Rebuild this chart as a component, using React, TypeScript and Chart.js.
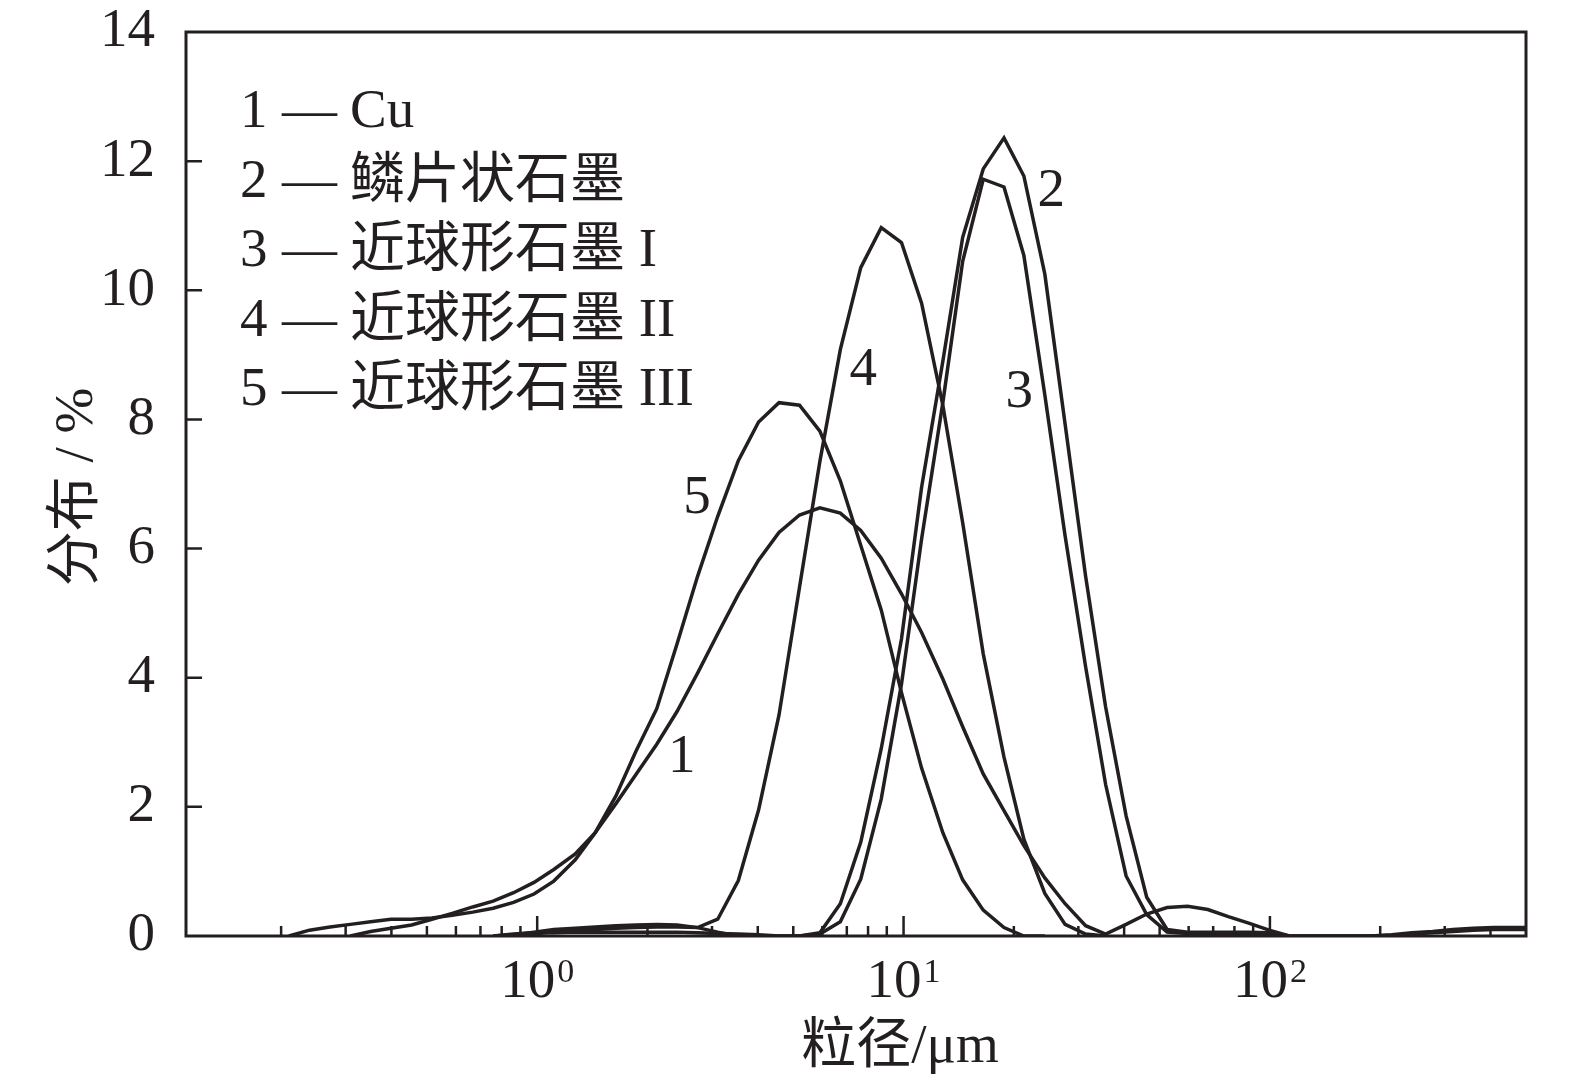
import { useEffect, useRef } from 'react';
import { Chart, registerables } from 'chart.js';
import type { Plugin } from 'chart.js';

Chart.register(...registerables);

// particle size bins (µm)
const sizes = [
    0.185, 0.210, 0.239, 0.272, 0.309, 0.351, 0.399, 0.454, 0.516, 0.586,
    0.667, 0.758, 0.862, 0.980, 1.11, 1.27, 1.44, 1.64, 1.86, 2.12,
    2.41, 2.74, 3.11, 3.54, 4.02, 4.57, 5.20, 5.91, 6.72, 7.64,
    8.69, 9.87, 11.2, 12.8, 14.5, 16.5, 18.8, 21.3, 24.3, 27.6,
    31.4, 35.6, 40.5, 46.1, 52.4, 59.6, 67.7, 77.0, 87.5, 99.5,
    113, 129, 146, 166, 189, 215, 244, 278, 316, 359,
    408, 465, 528,
];

// distribution (%) per sample, null = not measured
const cu = [
    null, null, null, null, 0, 0.07, 0.12, 0.17, 0.26, 0.35,
    0.45, 0.54, 0.67, 0.83, 1.03, 1.27, 1.60, 2.05, 2.50, 2.97,
    3.48, 4.07, 4.68, 5.29, 5.82, 6.25, 6.52, 6.63, 6.55, 6.28,
    5.85, 5.30, 4.70, 3.98, 3.24, 2.51, 1.94, 1.40, 0.90, 0.50,
    0.16, 0.03, 0.18, 0.34, 0.44, 0.46, 0.41, 0.30, 0.20, 0.09,
    0, null, null, null, null, null, null, null, null, null,
    null, null, null,
];
const flake = [
    null, null, null, null, null, null, null, null, null, null,
    null, 0, 0.02, 0.06, 0.10, 0.12, 0.14, 0.16, 0.17, 0.18,
    0.17, 0.13, 0.06, 0, 0, 0, 0, 0.05, 0.50, 1.45,
    2.90, 4.60, 6.95, 8.90, 10.82, 11.88, 12.36, 11.77, 10.25, 7.93,
    5.57, 3.55, 1.86, 0.60, 0.10, 0.06, 0.06, 0.06, 0.06, 0.05,
    0, 0, 0, 0, 0, 0.02, 0.05, 0.07, 0.10, 0.12,
    0.13, 0.13, 0.13,
];
const sphere1 = [
    null, null, null, null, null, null, null, null, null, null,
    null, 0, 0.03, 0.05, 0.05, 0.06, 0.06, 0.06, 0.06, 0.06,
    0.06, 0.05, 0.04, 0.03, 0.02, 0, 0, 0.03, 0.22, 0.88,
    2.12, 3.90, 6.15, 8.26, 10.45, 11.72, 11.60, 10.54, 8.38, 6.20,
    4.17, 2.35, 0.93, 0.33, 0.06, 0.04, 0.04, 0.04, 0.04, 0.03,
    0, 0, 0, 0, 0, 0.01, 0.03, 0.05, 0.07, 0.09,
    0.10, 0.10, 0.10,
];
const sphere2 = [
    null, null, null, null, null, null, null, null, null, null,
    null, null, 0, 0.03, 0.07, 0.09, 0.10, 0.12, 0.13, 0.14,
    0.14, 0.13, 0.26, 0.86, 1.95, 3.42, 5.40, 7.35, 9.08, 10.35,
    10.97, 10.74, 9.80, 8.22, 6.40, 4.37, 2.77, 1.50, 0.66, 0.18,
    0.03, 0, null, null, null, null, null, null, null, null,
    null, null, null, null, null, null, null, null, null, null,
    null, null, null,
];
const sphere3 = [
    null, 0, 0.09, 0.14, 0.18, 0.22, 0.26, 0.26, 0.28, 0.32,
    0.37, 0.43, 0.52, 0.65, 0.85, 1.18, 1.60, 2.17, 2.86, 3.52,
    4.53, 5.57, 6.50, 7.36, 7.96, 8.26, 8.22, 7.82, 7.05, 6.05,
    5.05, 3.77, 2.60, 1.60, 0.87, 0.40, 0.13, 0, 0, null,
    null, null, null, null, null, null, null, null, null, null,
    null, null, null, null, null, null, null, null, null, null,
    null, null, null,
];

const seriesNames = ['Cu', '鳞片状石墨', '近球形石墨 I', '近球形石墨 II', '近球形石墨 III'];
const series = [cu, flake, sphere1, sphere2, sphere3];

const xTicks = [
    0.2, 0.3, 0.4, 0.5, 0.6, 0.7, 0.8, 0.9,
    1, 2, 3, 4, 5, 6, 7, 8, 9,
    10, 20, 30, 40, 50, 60, 70, 80, 90,
    100, 200, 300, 400,
];
const xMajor = [1, 10, 100];
const xMajorExponents = ['0', '1', '2'];
const yTicks = [2, 4, 6, 8, 10, 12];

// where the curve numbers sit, in data units (µm, %)
const tagX = [2.48, 25.3, 20.7, 7.76, 2.73];
const tagY = [2.79, 11.56, 8.44, 8.79, 6.8];

const ink = '#231f20';
const serif = "'Liberation Serif', 'Times New Roman', 'Noto Sans CJK SC', serif";
const fontSize = 55;

const toPoints = (ys: (number | null)[]) =>
    sizes.flatMap((x, i) => (ys[i] === null ? [] : [{ x, y: ys[i] as number }]));

// keep the plot box where it is: no extra room for overhanging tick labels
const noOverhang = (scale: any) => {
    scale.paddingTop = 0;
    scale.paddingBottom = 0;
    scale.paddingLeft = 0;
    scale.paddingRight = 0;
};

const decorations: Plugin<'line'> = {
    id: 'decorations',
    afterDraw(chart) {
        const { ctx, chartArea: a, scales } = chart;
        const xs = scales.x;
        const ys = scales.y;
        ctx.save();
        ctx.strokeStyle = ink;
        ctx.fillStyle = ink;

        // frame
        ctx.lineWidth = 3;
        ctx.strokeRect(a.left, a.top, a.right - a.left, a.bottom - a.top);

        // inward ticks
        ctx.lineWidth = 2.5;
        ctx.beginPath();
        xTicks.forEach((v) => {
            const px = xs.getPixelForValue(v);
            const len = xMajor.includes(v) ? 20 : 10;
            ctx.moveTo(px, a.bottom);
            ctx.lineTo(px, a.bottom - len);
        });
        yTicks.forEach((v) => {
            const py = ys.getPixelForValue(v);
            ctx.moveTo(a.left, py);
            ctx.lineTo(a.left + 16, py);
        });
        ctx.stroke();

        // decade labels 10^n with a real superscript
        ctx.textAlign = 'left';
        ctx.textBaseline = 'alphabetic';
        xMajor.forEach((v, i) => {
            const px = xs.getPixelForValue(v);
            ctx.font = `${fontSize}px ${serif}`;
            const w1 = ctx.measureText('10').width;
            ctx.font = `34px ${serif}`;
            const w2 = ctx.measureText(xMajorExponents[i]).width;
            const x0 = px - (w1 + w2 + 2) / 2;
            ctx.font = `${fontSize}px ${serif}`;
            ctx.fillText('10', x0, a.bottom + 61);
            ctx.font = `34px ${serif}`;
            ctx.fillText(xMajorExponents[i], x0 + w1 + 2, a.bottom + 46);
        });

        ctx.font = `${fontSize}px ${serif}`;

        // legend
        seriesNames.forEach((name, i) => {
            const y = a.top + 95 + i * 69.6;
            ctx.fillText(String(i + 1), a.left + 54, y);
            ctx.fillText('—', a.left + 96, y);
            ctx.fillText(name, a.left + 164, y);
        });

        // curve numbers
        ctx.textAlign = 'center';
        ctx.textBaseline = 'middle';
        tagX.forEach((v, i) => {
            ctx.fillText(String(i + 1), xs.getPixelForValue(v), ys.getPixelForValue(tagY[i]) + 2);
        });

        // axis titles
        ctx.fillText('粒径/μm', (a.left + a.right) / 2 + 44, a.bottom + 112);
        ctx.translate(78, (a.top + a.bottom) / 2 + 3);
        ctx.rotate(-Math.PI / 2);
        ctx.fillText('分布 / %', 0, 0);
        ctx.restore();
    },
};

const SizeDistributionChart = () => {
    const chartRef = useRef<HTMLCanvasElement | null>(null);
    const chartInstance = useRef<Chart<'line', { x: number; y: number }[]> | null>(null);

    useEffect(() => {
        if (!chartRef.current) return;
        const ctx = chartRef.current.getContext('2d');
        if (!ctx) return;
        if (chartInstance.current) {
            chartInstance.current.destroy();
        }

        chartInstance.current = new Chart(ctx, {
            type: 'line',
            data: {
                datasets: series.map((ys, i) => ({
                    label: seriesNames[i],
                    data: toPoints(ys),
                    borderColor: ink,
                    borderWidth: 3.5,
                    pointRadius: 0,
                    tension: 0,
                    fill: false,
                })),
            },
            options: {
                animation: false,
                responsive: true,
                maintainAspectRatio: false,
                layout: { padding: { left: 0, top: 32, right: 49, bottom: 0 } },
                plugins: {
                    legend: { display: false },
                    tooltip: { enabled: false },
                },
                scales: {
                    x: {
                        type: 'logarithmic',
                        min: 0.11,
                        max: 500,
                        afterBuildTicks: (scale) => {
                            scale.ticks = xTicks.map((value) => ({ value }));
                        },
                        afterFit: (scale) => {
                            scale.height = 149;
                            noOverhang(scale);
                        },
                        grid: { display: false },
                        border: { display: false },
                        ticks: { display: false },
                    },
                    y: {
                        min: 0,
                        max: 14,
                        afterFit: (scale) => {
                            scale.width = 186;
                            noOverhang(scale);
                        },
                        grid: { display: false },
                        border: { display: false },
                        ticks: {
                            stepSize: 2,
                            padding: 23,
                            color: ink,
                            font: { family: serif, size: fontSize, lineHeight: 1 },
                        },
                    },
                },
            },
            plugins: [decorations],
        });

        return () => {
            if (chartInstance.current) {
                chartInstance.current.destroy();
                chartInstance.current = null;
            }
        };
    }, []);

    return (
        <div style={{ position: 'fixed', left: 0, top: 0, width: 1575, height: 1085, background: '#fff' }}>
            <canvas ref={chartRef} />
        </div>
    );
};

export default function App() {
    return <SizeDistributionChart />;
}
